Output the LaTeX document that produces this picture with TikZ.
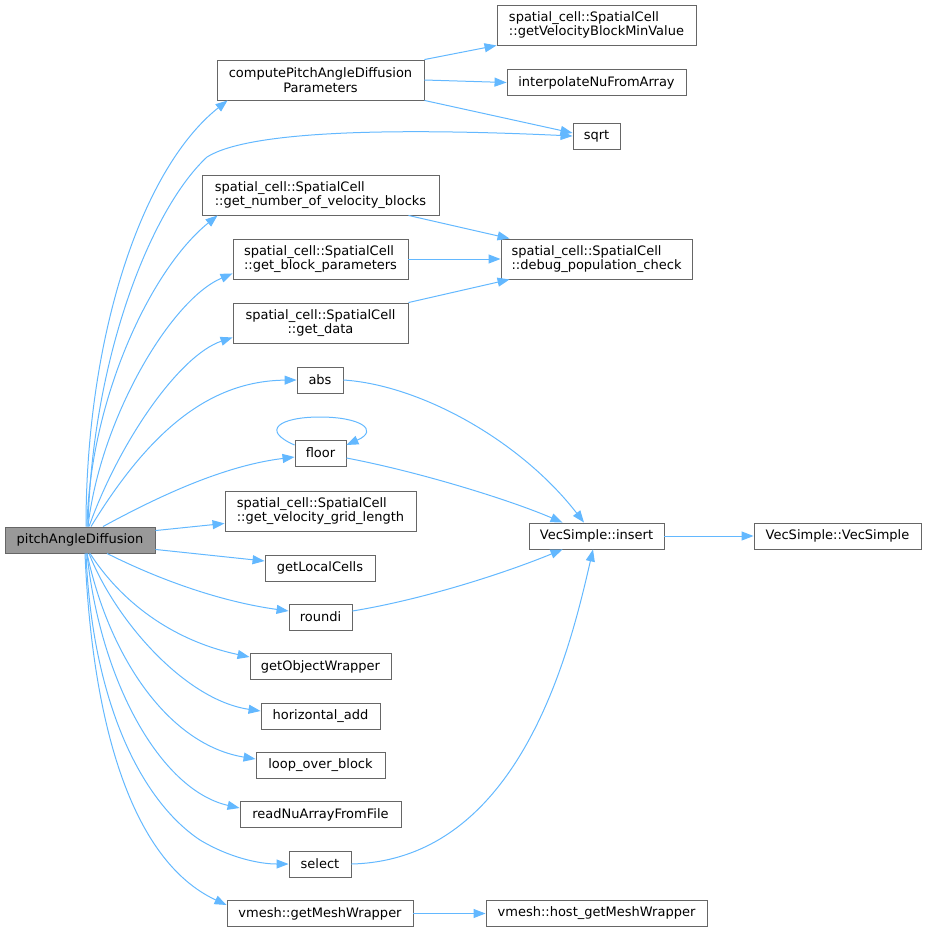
\documentclass[tikz,border=0pt]{standalone}
\usepackage{fontspec}
\setmainfont{DejaVu Sans}
\usetikzlibrary{arrows.meta}
\definecolor{boxgray}{HTML}{666666}
\definecolor{rootfill}{HTML}{999999}
\definecolor{edgeblue}{HTML}{63B8FF}
\begin{document}
\begin{tikzpicture}[x=1pt,y=-1pt,
  box/.style={draw=boxgray, line width=0.9pt, fill=white, inner sep=0pt, text=black,
    font=\fontsize{13}{14.5}\selectfont},
  one/.style={minimum height=26pt},
  two/.style={minimum height=40pt},
  edge/.style={draw=edgeblue, line width=1pt, -{Triangle[length=12pt,width=9pt]}},
]
\useasboundingbox (0,0) rectangle (927,931);

% nodes
\node[box, one, fill=rootfill, minimum width=150pt] (root) at (80,540) {pitchAngleDiffusion};
\node[box, two, minimum width=207pt, align=center] (cpad) at (320.5,80) {computePitchAngleDiffusion\\Parameters};
\node[box, two, minimum width=199pt, align=left] (gvbmv) at (596.5,25) {spatial\_cell::SpatialCell\\::getVelocityBlockMinValue};
\node[box, one, minimum width=179pt] (interp) at (596.5,82.5) {interpolateNuFromArray};
\node[box, one, minimum width=47pt] (sqrt) at (596.5,136) {sqrt};
\node[box, two, minimum width=237pt, align=left] (gnvb) at (320.5,195) {spatial\_cell::SpatialCell\\::get\_number\_of\_velocity\_blocks};
\node[box, two, minimum width=191pt, align=left] (dpc) at (596.5,259) {spatial\_cell::SpatialCell\\::debug\_population\_check};
\node[box, two, minimum width=175pt, align=left] (gbp) at (320.5,259) {spatial\_cell::SpatialCell\\::get\_block\_parameters};
\node[box, two, minimum width=175pt, align=center] (gdata) at (320.5,323) {spatial\_cell::SpatialCell\\::get\_data};
\node[box, one, minimum width=46pt] (abs) at (320,380) {abs};
\node[box, one, minimum width=51pt] (floor) at (320.5,453) {floor};
\node[box, two, minimum width=191pt, align=left] (gvgl) at (320.5,511) {spatial\_cell::SpatialCell\\::get\_velocity\_grid\_length};
\node[box, one, minimum width=110pt] (glc) at (320,568) {getLocalCells};
\node[box, one, minimum width=63pt] (roundi) at (320.5,617) {roundi};
\node[box, one, minimum width=141pt] (gow) at (320.5,666.5) {getObjectWrapper};
\node[box, one, minimum width=119pt] (hadd) at (320.5,716) {horizontal\_add};
\node[box, one, minimum width=129pt] (lob) at (320.5,765) {loop\_over\_block};
\node[box, one, minimum width=161pt] (rnaff) at (320.5,814.5) {readNuArrayFromFile};
\node[box, one, minimum width=62pt] (select) at (320,864) {select};
\node[box, one, minimum width=186pt] (gmw) at (320,913.5) {vmesh::getMeshWrapper};
\node[box, one, minimum width=221pt] (hgmw) at (596.5,913.5) {vmesh::host\_getMeshWrapper};
\node[box, one, minimum width=135pt] (insert) at (596.5,536) {VecSimple::insert};
\node[box, one, minimum width=167pt] (vecs) at (837.5,536) {VecSimple::VecSimple};

% edges from root
\draw[edge] ([xshift=6pt]root.north) .. controls (86,340) and (140,170) .. ([xshift=11pt]cpad.south west);
\draw[edge] ([xshift=8pt]root.north) .. controls (92,360) and (150,210) .. (207,157)
  .. controls (250,130) and (400,128) .. (sqrt.west);
\draw[edge] ([xshift=7pt]root.north) .. controls (90,400) and (150,270) .. ([xshift=16pt]gnvb.south west);
\draw[edge] ([xshift=8pt]root.north) .. controls (100,420) and (170,300) .. ([yshift=6pt]gbp.south west);
\draw[edge] ([xshift=9pt]root.north) .. controls (120,440) and (180,355) .. ([yshift=6pt]gdata.south west);
\draw[edge] ([xshift=11pt]root.north) .. controls (150,430) and (210,381) .. (abs.west);
\draw[edge] ([xshift=23pt]root.north) .. controls (170,490) and (230,465) .. ([yshift=-4pt]floor.west);
\draw[edge] ([yshift=-4pt]root.north east) -- ([yshift=8pt]gvgl.south west);
\draw[edge] ([yshift=4pt]root.south east) -- ([yshift=7pt]glc.west);
\draw[edge] ([xshift=27pt]root.south) .. controls (170,585) and (230,603) .. ([yshift=6pt]roundi.west);
\draw[edge] ([xshift=10pt]root.south) .. controls (120,600) and (170,640) .. ([yshift=9.5pt]gow.west);
\draw[edge] ([xshift=9pt]root.south) .. controls (115,620) and (185,700) .. ([yshift=5pt]hadd.west);
\draw[edge] ([xshift=7pt]root.south) .. controls (110,660) and (170,745) .. ([yshift=6pt]lob.west);
\draw[edge] ([xshift=7pt]root.south) .. controls (100,680) and (160,790) .. ([yshift=6.5pt]rnaff.west);
\draw[edge] ([xshift=6pt]root.south) .. controls (92,700) and (140,800) .. (200,840)
  .. controls (230,858) and (260,864) .. (select.west);
\draw[edge] ([xshift=5pt]root.south) .. controls (92,720) and (130,860) .. ([yshift=8.5pt]gmw.west);

% other edges
\draw[edge] (cpad.north east) -- (gvbmv.south west);
\draw[edge] (cpad.east) -- (interp.west);
\draw[edge] (cpad.south east) -- ([yshift=3pt]sqrt.west);
\draw[edge] ([xshift=-31pt]gnvb.south east) -- ([xshift=9pt]dpc.north west);
\draw[edge] (gbp.east) -- (dpc.west);
\draw[edge] (gdata.north east) -- ([xshift=9pt]dpc.south west);
\draw[edge] (abs.east) .. controls (420,385) and (520,440) .. ([xshift=-12.5pt]insert.north);
\draw[edge] ([yshift=-5pt]floor.east) .. controls (420,472) and (510,500) .. ([xshift=34pt]insert.north west);
\draw[edge] ([yshift=6pt]roundi.east) .. controls (420,600) and (500,575) .. ([xshift=34pt]insert.south west);
\draw[edge] (select.east) .. controls (520,860) and (570,650) .. ([xshift=-3.5pt]insert.south);
\draw[edge] (insert.east) -- (vecs.west);
\draw[edge] (gmw.east) -- (hgmw.west);
\draw[edge] ([yshift=8pt]floor.west) .. controls (260,430) and (280,417) .. (320,417)
  .. controls (360,417) and (380,430) .. ([yshift=8pt]floor.east);
\end{tikzpicture}
\end{document}
